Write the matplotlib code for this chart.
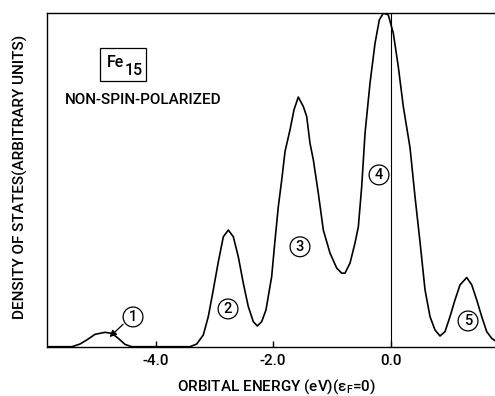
import numpy as np
import matplotlib
matplotlib.use("Agg")
from matplotlib import pyplot as plt
from matplotlib.patches import Rectangle

plt.rcParams['font.family'] = ['Roboto', 'DejaVu Sans']
plt.rcParams['font.weight'] = 'medium'
plt.rcParams['mathtext.default'] = 'regular'

# Orbital energy (eV, E_F = 0) and density of states (arbitrary units)
energy = [-5.845, -5.425, -5.289, -5.174, -5.033, -4.863, -4.749, -4.637, -4.523, -4.409,
          -3.416, -3.302, -3.190, -3.105, -3.020, -2.934, -2.849, -2.764, -2.679, -2.594,
          -2.509, -2.424, -2.339, -2.271, -2.196, -2.123, -2.026, -1.969, -1.913, -1.855,
          -1.799, -1.714, -1.646, -1.573, -1.488, -1.430, -1.374, -1.317, -1.232, -1.147,
          -1.033, -0.919, -0.834, -0.778, -0.693, -0.608, -0.551, -0.494, -0.437, -0.352,
          -0.267, -0.194, -0.126, -0.041, 0.044, 0.129, 0.214, 0.329, 0.414, 0.499,
          0.584, 0.669, 0.754, 0.839, 0.924, 1.009, 1.094, 1.180, 1.294, 1.379,
          1.464, 1.549, 1.634, 1.719, 1.775]
dos = [0.0, 0.0, 0.8, 2.0, 3.7, 4.3, 4.0, 2.5, 0.7, 0.0,
       0.0, 0.8, 3.5, 9.0, 17.0, 25.4, 32.9, 34.9, 32.9, 26.9,
       19.0, 12.0, 7.5, 6.2, 7.5, 11.0, 21.0, 31.9, 41.9, 49.9,
       58.4, 64.9, 70.9, 74.7, 71.9, 68.9, 60.9, 55.9, 45.9, 34.9,
       28.0, 23.5, 22.0, 22.0, 25.0, 31.0, 35.9, 47.9, 63.9, 78.9,
       90.8, 97.8, 99.8, 99.3, 93.8, 83.8, 71.9, 59.5, 44.8, 31.3,
       17.0, 9.0, 5.0, 3.2, 4.5, 9.0, 14.0, 18.5, 20.7, 18.5,
       14.0, 9.0, 4.5, 2.5, 1.8]

# peak labels: (label, energy, height)
peak_labels = ['1', '2', '3', '4', '5']
peak_label_e = [-4.386, -2.769, -1.544, -0.199, 1.316]
peak_label_h = [8.9, 11.3, 29.9, 51.4, 7.7]

xticks = [-4.0, -2.0, 0.0]
xticklabels = ['-4.0', '-2.0', '0.0']

fig = plt.figure(figsize=(4.95, 3.96), dpi=100)
ax = fig.add_axes([47.3 / 495, 1 - 346.7 / 396, 1 - 47.3 / 495, (346.7 - 12.5) / 396])

ax.plot(energy, dos, color='black', lw=1.2)
ax.axvline(0.0, color='black', lw=0.8)

ax.set_xlim(energy[0], energy[-1])
ax.set_ylim(0, 100)
ax.spines['right'].set_visible(False)
for s in ['left', 'bottom', 'top']:
    ax.spines[s].set_linewidth(1.0)
ax.set_yticks([])
ax.set_xticks(xticks)
ax.set_xticklabels(xticklabels, fontsize=11)
ax.tick_params(axis='x', direction='in', length=4, width=1.0, pad=5)

# circled peak numbers
for lab, e, h in zip(peak_labels, peak_label_e, peak_label_h):
    ax.text(e, h, lab, fontsize=10.5, ha='center', va='center',
            bbox=dict(boxstyle='circle,pad=0.2', fc='white', ec='black', lw=0.9))

ax.annotate('', xy=(-4.82, 2.3), xytext=(-4.52, 7.3),
            arrowprops=dict(arrowstyle='-|>', color='black', lw=0.9, mutation_scale=10))

# Fe15 label in a box, subscript kept near full size
ax.add_patch(Rectangle((0.1177, 0.795), 0.1028, 0.099, transform=ax.transAxes,
                       fill=False, ec='black', lw=0.9))
ax.text(0.1333, 0.837, 'Fe', transform=ax.transAxes, fontsize=11.5,
        ha='left', va='baseline')
ax.text(0.1736, 0.813, '15', transform=ax.transAxes, fontsize=11.5,
        ha='left', va='baseline')
ax.text(0.0395, 0.738, 'NON-SPIN-POLARIZED', transform=ax.transAxes, fontsize=11,
        ha='left', va='center')

fig.text(277 / 495, 1 - 387 / 396, r'ORBITAL ENERGY (eV)($\epsilon_F$=0)',
         fontsize=11, ha='center', va='center')
fig.text(20 / 495, 1 - 177 / 396, 'DENSITY OF STATES(ARBITRARY UNITS)',
         fontsize=11, ha='center', va='center', rotation=90)

fig.savefig('out.png', dpi=100)
